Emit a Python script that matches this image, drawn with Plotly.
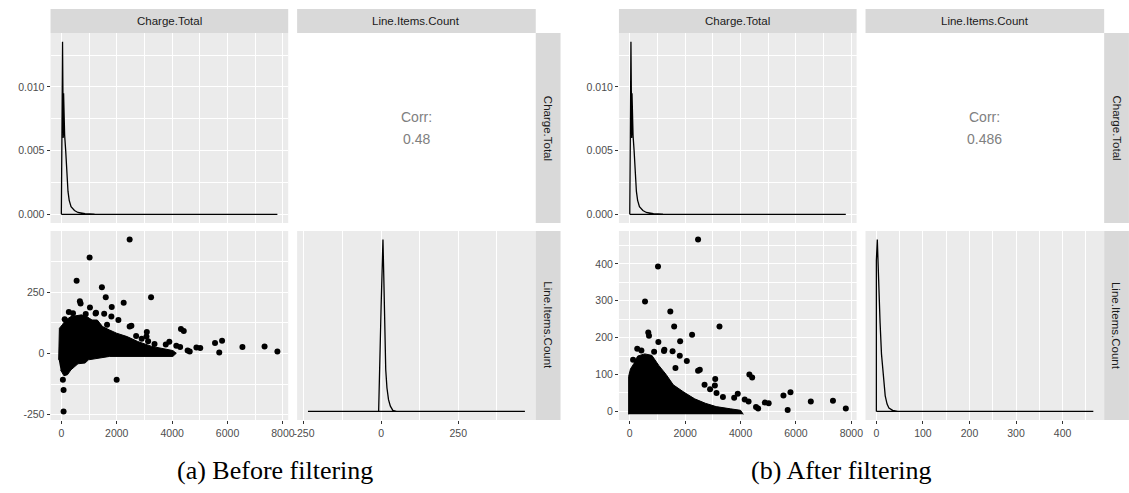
import plotly.graph_objects as go

W, H = 1129, 493

# ---------------- data ----------------
# density of Charge.Total (same shape before / after filtering)
ct_dens_x = [0, 0, 20, 43, 58, 70, 81, 95, 119, 157, 195, 240, 284, 350, 474, 600, 855, 1200, 2000, 4000, 6000, 7800, 7800, 0]
ct_dens_y = [0, 0.0057, 0.0060, 0.01355, 0.0068, 0.0060, 0.0095, 0.0070, 0.0062, 0.0050, 0.0030, 0.0018,
             0.0011, 0.0006, 0.0003, 0.00015, 0.00005, 0.00001, 0, 0, 0, 0, 0, 0]

# density of Line.Items.Count before filtering
lic_dens_x_a = [-237, -8, 0, 3, 6, 9, 12, 15, 19, 24, 30, 38, 50, 466, 466, -237]
lic_dens_y_a = [0, 0, 0.040, 0.052, 0.066, 0.050, 0.036, 0.016, 0.009, 0.0045, 0.002, 0.0004, 0, 0, 0, 0]

# density of Line.Items.Count after filtering
lic_dens_x_b = [0, 0, 2, 5, 8, 11, 15, 19, 23, 27, 35, 46, 466, 466, 0]
lic_dens_y_b = [0, 0.058, 0.066, 0.048, 0.034, 0.022, 0.012, 0.006, 0.0028, 0.0013, 0.0004, 0, 0, 0, 0]

# scattered (non-dense) points: Charge.Total, Line.Items.Count
pts_ct = [2466, 1020, 551, 1464, 1603, 3239, 2250, 1033, 1819, 270, 1236, 1806, 2060, 4318, 4419,
          5548, 5802, 6537, 7336, 7800, 5701, 4876, 5015, 4559, 4635, 3899, 669, 695, 2466, 2529,
          3086, 3073, 3132, 3364, 3770, 4150, 4289, 1250, 1546, 120, 420, 880, 1650, 2700, 2900]
pts_lic = [466, 393, 298, 271, 230, 230, 208, 188, 190, 170, 164, 151, 137, 100, 92,
           43, 52, 27, 29, 8, 4, 24, 22, 12, 8, 48, 214, 205, 110, 113,
           88, 70, 50, 39, 37, 32, 27, 167, 163, 140, 165, 162, 118, 72, 60]

# negative points (only before filtering)
neg_ct = [1997, 56, 81, 81]
neg_lic = [-107, -107, -149, -237]

# outline of the dense mass of points, before filtering
blob_ct_a = [-96, -96, -71, 30, 157, 347, 538, 728, 918, 1108, 1298, 1489, 1742, 1996, 2376, 2757,
             3264, 3771, 4025, 4151, 4025, 1742, 981, 855, 601, 347, 221, 94, -30]
blob_lic_a = [-26, 69, 103, 117, 137, 151, 155, 158, 151, 137, 137, 110, 96, 83, 69, 49,
              29, 18, 12, 1, -12, -12, -26, -39, -42, -67, -87, -91, -67]

# outline of the dense mass of points, after filtering
blob_ct_b = [-40, -40, 25, 150, 283, 540, 798, 1056, 1314, 1572, 1959, 2346, 2732, 3119, 3635, 4000, 4100]
blob_lic_b = [-8, 95, 115, 130, 150, 156, 152, 124, 100, 72, 52, 34, 22, 13, 7, 3, -8]

corr_txt = ["Corr:\n0.48", "Corr:\n0.486"]
captions = ["(a) Before filtering", "(b) After filtering"]
var_names = ["Charge.Total", "Line.Items.Count"]

ct_ticks = [0, 2000, 4000, 6000, 8000]
ct_minor = [1000, 3000, 5000, 7000]
dens_ticks = [0, 0.005, 0.010]
dens_labels = ["0.000", "0.005", "0.010"]
dens_minor = [0.0025, 0.0075, 0.0125]
lic_ticks_a = [-250, 0, 250]
lic_minor_a = [-125, 125, 375]
lic_ticks_b = [0, 100, 200, 300, 400]
lic_minor_b = [50, 150, 250, 350, 450]

# ---------------- helpers ----------------
def expand(lo, hi, m=0.05):
    d = hi - lo
    return [lo - m * d, hi + m * d]

def px(x):
    return x / W

def py(y):
    return 1 - y / H

FONT = "Liberation Sans, Arial, sans-serif"
GREY_BG = "#ebebeb"
STRIP = "#d9d9d9"

fig = go.Figure()
layout = dict(width=W, height=H, margin=dict(l=0, r=0, t=0, b=0), showlegend=False,
              paper_bgcolor="white", plot_bgcolor="white", font=dict(family=FONT))
shapes, annotations = [], []

ct_range = expand(min(ct_dens_x), max(pts_ct))
lic_ranges = [expand(min(neg_lic + pts_lic), max(pts_lic)), expand(0, max(pts_lic))]
lic_ticks = [lic_ticks_a, lic_ticks_b]
lic_minor = [lic_minor_a, lic_minor_b]
lic_dens = [(lic_dens_x_a, lic_dens_y_a), (lic_dens_x_b, lic_dens_y_b)]
blobs = [(blob_ct_a, blob_lic_a), (blob_ct_b, blob_lic_b)]

col_w, gap, strip_w = 240, 9, 25
rows = [(33, 223), (231, 420)]
strip_top = 9

def axis(dom, rng, tv, tt, minor, labels_on, corr=False):
    a = dict(domain=dom, range=rng, tickmode="array", tickvals=tv, ticktext=tt,
             showticklabels=labels_on, ticks="outside" if labels_on else "",
             ticklen=3, tickwidth=1, tickcolor="#333333",
             tickfont=dict(size=10.5, color="#4d4d4d", family=FONT),
             showgrid=True, zeroline=False, showline=False, fixedrange=True)
    if corr:
        a.update(gridcolor="#dedede", gridwidth=1)
    else:
        a.update(gridcolor="white", gridwidth=1.1,
                 minor=dict(tickmode="array", tickvals=minor, showgrid=True,
                            gridcolor="white", gridwidth=0.55, ticks=""))
    return a

idx = 0
for f in range(2):
    x0 = 47 if f == 0 else 621
    cols = [(x0, x0 + col_w), (x0 + col_w + gap, x0 + 2 * col_w + gap + 1)]
    dens_max = max(ct_dens_y)
    for r in range(2):
        for c in range(2):
            idx += 1
            xs = "" if idx == 1 else str(idx)
            xd = [px(cols[c][0]), px(cols[c][1])]
            yd = [py(rows[r][1]), py(rows[r][0])]
            is_corr = (r == 0 and c == 1)
            # x axis variable = column variable
            if c == 0:
                xa = axis(xd, ct_range, ct_ticks, [str(v) for v in ct_ticks], ct_minor, r == 1, is_corr)
            else:
                lt = lic_ticks[f] + ([500] if (is_corr and f == 0) else [])
                xa = axis(xd, lic_ranges[f], lt, [str(v) for v in lt], lic_minor[f], r == 1, is_corr)
            # y axis
            if r == c:
                if c == 0:
                    ya = axis(yd, expand(0, dens_max), dens_ticks, dens_labels, dens_minor, True)
                else:
                    ya = axis(yd, expand(0, max(lic_dens[f][1])), [], [], [], False)
                    ya["showgrid"] = False
                    ya["minor"]["showgrid"] = False
            elif is_corr:
                ya = axis(yd, ct_range, ct_ticks, [str(v) for v in ct_ticks], ct_minor, False, True)
            else:
                ya = axis(yd, lic_ranges[f], lic_ticks[f], [str(v) for v in lic_ticks[f]], lic_minor[f], True)
            xa["anchor"] = "y" + xs
            ya["anchor"] = "x" + xs
            layout["xaxis" + xs] = xa
            layout["yaxis" + xs] = ya
            if not is_corr:
                shapes.append(dict(type="rect", xref="paper", yref="paper", layer="below",
                                   x0=xd[0], x1=xd[1], y0=yd[0], y1=yd[1],
                                   fillcolor=GREY_BG, line=dict(width=0)))
            xr, yr = "x" + xs, "y" + xs
            if r == 0 and c == 0:
                fig.add_trace(go.Scatter(x=ct_dens_x, y=ct_dens_y, mode="lines",
                                         line=dict(color="black", width=1.3), xaxis=xr, yaxis=yr))
            elif r == 1 and c == 1:
                fig.add_trace(go.Scatter(x=lic_dens[f][0], y=lic_dens[f][1], mode="lines",
                                         line=dict(color="black", width=1.3), xaxis=xr, yaxis=yr))
            elif r == 1 and c == 0:
                bx, by = blobs[f]
                fig.add_trace(go.Scatter(x=bx, y=by, mode="lines", fill="toself", fillcolor="black",
                                         line=dict(color="black", width=1), xaxis=xr, yaxis=yr))
                sx = pts_ct + (neg_ct if f == 0 else [])
                sy = pts_lic + (neg_lic if f == 0 else [])
                fig.add_trace(go.Scatter(x=sx, y=sy, mode="markers",
                                         marker=dict(color="black", size=6, line=dict(width=0)),
                                         xaxis=xr, yaxis=yr))
            else:
                line1, line2 = corr_txt[f].split("\n")
                cy = (rows[0][0] + rows[0][1]) / 2
                cx = (cols[1][0] + cols[1][1]) / 2
                for t, dy in ((line1, -10.5), (line2, 10.5)):
                    annotations.append(dict(text=t, xref="paper", yref="paper", x=px(cx), y=py(cy + dy),
                                            showarrow=False, xanchor="center", yanchor="middle",
                                            font=dict(size=14, color="#808080", family=FONT)))
    # top strips
    for c in range(2):
        shapes.append(dict(type="rect", xref="paper", yref="paper", layer="below",
                           x0=px(cols[c][0]), x1=px(cols[c][1]), y0=py(rows[0][0]), y1=py(strip_top),
                           fillcolor=STRIP, line=dict(width=0)))
        annotations.append(dict(text=var_names[c], xref="paper", yref="paper",
                                x=px((cols[c][0] + cols[c][1]) / 2), y=py((strip_top + rows[0][0]) / 2),
                                showarrow=False, xanchor="center", yanchor="middle",
                                font=dict(size=11.5, color="#1a1a1a", family=FONT)))
    # right strips
    sx0 = cols[1][1]
    for r in range(2):
        shapes.append(dict(type="rect", xref="paper", yref="paper", layer="below",
                           x0=px(sx0), x1=px(sx0 + strip_w), y0=py(rows[r][1]), y1=py(rows[r][0]),
                           fillcolor=STRIP, line=dict(width=0)))
        annotations.append(dict(text=var_names[r], xref="paper", yref="paper",
                                x=px(sx0 + strip_w / 2), y=py((rows[r][0] + rows[r][1]) / 2),
                                showarrow=False, xanchor="center", yanchor="middle", textangle=90,
                                font=dict(size=11.5, color="#1a1a1a", family=FONT)))
    # caption
    annotations.append(dict(text=captions[f], xref="paper", yref="paper",
                            x=px(274 if f == 0 else 846), y=py(470), showarrow=False,
                            xanchor="center", yanchor="middle",
                            font=dict(size=26, color="black", family="Liberation Serif, Times New Roman, serif")))

layout["shapes"] = shapes
layout["annotations"] = annotations
fig.update_layout(**layout)
fig.write_html("out.html", config={"displayModeBar": False},
               post_script="document.body.style.margin='0';")
